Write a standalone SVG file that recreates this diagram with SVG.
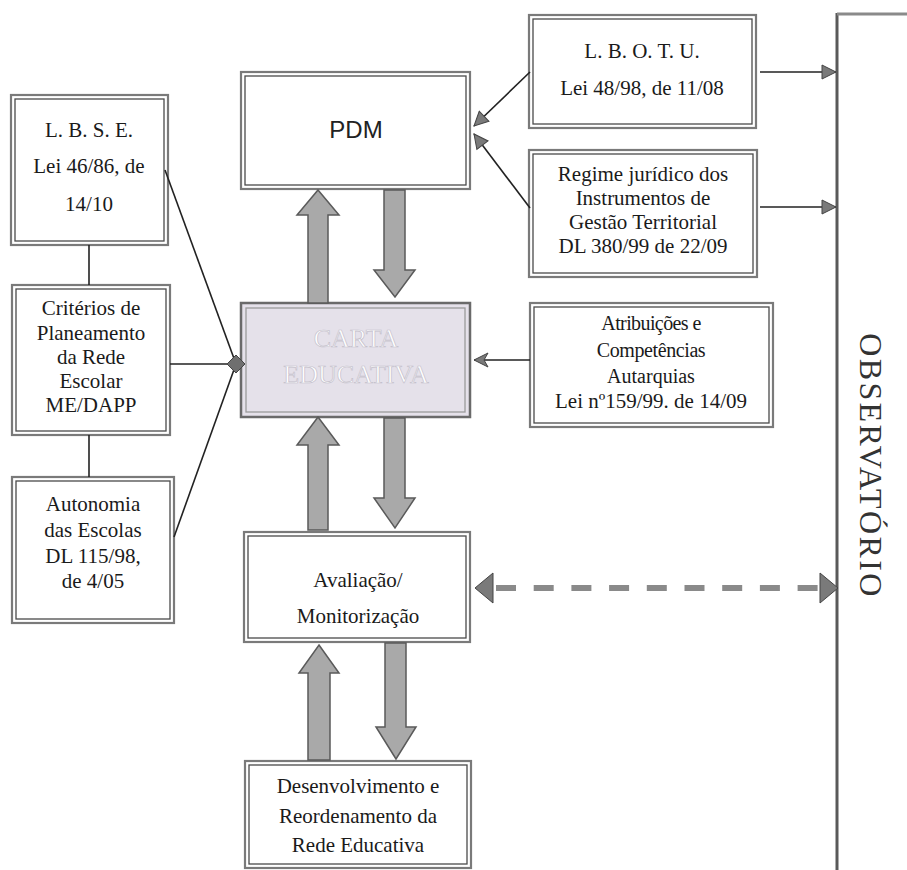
<svg xmlns="http://www.w3.org/2000/svg" width="907" height="870" viewBox="0 0 907 870">
<style>
.ob{fill:#fff;stroke:#7a7a7a;stroke-width:2.2}
.ib{fill:none;stroke:#4a4a4a;stroke-width:1.3}
.t{font-family:"Liberation Serif","Times New Roman",serif;font-size:21px;fill:#1a1a1a;text-anchor:middle}
.a{font-size:20px}
.s{font-family:"Liberation Sans",Arial,sans-serif;font-size:24px;fill:#222;text-anchor:middle}
.ln{stroke:#222;stroke-width:1.6;fill:none}
.blk{fill:#a9a9a9;stroke:#5a5a5a;stroke-width:1.5}
.ah{fill:#7a7a7a;stroke:#444;stroke-width:1}
.ct{font-family:"Liberation Serif","Times New Roman",serif;font-size:26px;text-anchor:middle;fill:#fff;stroke:#c4c0cb;stroke-width:0.7}
</style>
<defs>
<marker id="tri" markerUnits="userSpaceOnUse" markerWidth="16" markerHeight="16" viewBox="0 0 16 16" refX="15" refY="8" orient="auto">
<path d="M1,1 L15,8 L1,15 Z" class="ah"/>
</marker>
<marker id="stl" markerUnits="userSpaceOnUse" markerWidth="16" markerHeight="16" viewBox="0 0 16 16" refX="15" refY="8" orient="auto">
<path d="M1,1 L15,8 L1,15 L5,8 Z" class="ah"/>
</marker>
</defs>
<rect width="907" height="870" fill="#fff"/>

<g id="lbse">
<rect class="ob" x="11" y="95" width="157" height="150"/>
<rect class="ib" x="15" y="99" width="149" height="142"/>
<text class="t" x="89" y="137">L. B. S. E.</text>
<text class="t" x="89" y="173">Lei 46/86, de</text>
<text class="t" x="89" y="211">14/10</text>
</g>

<g id="criterios">
<rect class="ob" x="12" y="285" width="158" height="150"/>
<rect class="ib" x="16" y="289" width="150" height="142"/>
<text class="t" x="91" y="315">Critérios de</text>
<text class="t" x="91" y="340">Planeamento</text>
<text class="t" x="91" y="364">da Rede</text>
<text class="t" x="91" y="388">Escolar</text>
<text class="t" x="91" y="412">ME/DAPP</text>
</g>

<g id="autonomia">
<rect class="ob" x="12" y="477" width="162" height="146"/>
<rect class="ib" x="16" y="481" width="154" height="138"/>
<text class="t" x="93" y="511">Autonomia</text>
<text class="t" x="93" y="537">das Escolas</text>
<text class="t" x="93" y="563">DL 115/98,</text>
<text class="t" x="93" y="588">de 4/05</text>
</g>

<g id="pdm">
<rect class="ob" x="241" y="72" width="229" height="117"/>
<rect class="ib" x="245" y="76" width="221" height="109"/>
<text class="s" x="356" y="138">PDM</text>
</g>

<g id="carta">
<rect x="241" y="303" width="229" height="114" fill="#e5e1ea" stroke="#6a6a6a" stroke-width="2.5"/>
<rect x="246" y="308" width="219" height="104" fill="none" stroke="#9a9a9a" stroke-width="1.3"/>
<text class="ct" x="356" y="347">CARTA</text>
<text class="ct" x="356" y="383">EDUCATIVA</text>
</g>

<g id="avaliacao">
<rect class="ob" x="244" y="532" width="226" height="110"/>
<rect class="ib" x="248" y="536" width="218" height="102"/>
<text class="t" x="358" y="587">Avaliação/</text>
<text class="t" x="358" y="623">Monitorização</text>
</g>

<g id="desenvolvimento">
<rect class="ob" x="245" y="761" width="226" height="107"/>
<rect class="ib" x="249" y="765" width="218" height="99"/>
<text class="t" x="358" y="793">Desenvolvimento e</text>
<text class="t" x="358" y="823">Reordenamento da</text>
<text class="t" x="358" y="852">Rede Educativa</text>
</g>

<g id="lbotu">
<rect class="ob" x="529" y="15" width="227" height="113"/>
<rect class="ib" x="533" y="19" width="219" height="105"/>
<text class="t" x="642" y="58">L. B. O. T. U.</text>
<text class="t" x="642" y="95">Lei 48/98, de 11/08</text>
</g>

<g id="regime">
<rect class="ob" x="529" y="150" width="228" height="127"/>
<rect class="ib" x="533" y="154" width="220" height="119"/>
<text class="t" x="643" y="181">Regime jurídico dos</text>
<text class="t" x="643" y="205">Instrumentos de</text>
<text class="t" x="643" y="229">Gestão Territorial</text>
<text class="t" x="643" y="253">DL 380/99 de 22/09</text>
</g>

<g id="atribuicoes">
<rect class="ob" x="530" y="303" width="243" height="124"/>
<rect class="ib" x="534" y="307" width="235" height="116"/>
<text class="t a" x="651" y="330" letter-spacing="-0.6">Atribuições e</text>
<text class="t a" x="651" y="357" letter-spacing="-0.4">Competências</text>
<text class="t a" x="651" y="383">Autarquias</text>
<text class="t" x="651" y="408">Lei nº159/99. de 14/09</text>
</g>

<g id="observatorio">
<line x1="837" y1="13" x2="837" y2="870" stroke="#5a5a5a" stroke-width="3"/>
<line x1="837" y1="14" x2="907" y2="14" stroke="#8a8a8a" stroke-width="3"/>
<text transform="translate(860,466) rotate(90)" font-family="Liberation Serif,Times New Roman,serif" font-size="32" letter-spacing="2.4" text-anchor="middle" fill="#333">OBSERVATÓRIO</text>
</g>

<g id="connectors">
<line class="ln" x1="89" y1="245" x2="89" y2="285"/>
<line class="ln" x1="89" y1="435" x2="89" y2="477"/>
<line class="ln" x1="165" y1="170" x2="236" y2="364"/>
<line class="ln" x1="170" y1="364" x2="230" y2="364"/>
<line class="ln" x1="174" y1="537" x2="236" y2="364"/>
<path d="M236,355 L245,364 L236,373 L227,364 Z" fill="#6f6f6f" stroke="#444" stroke-width="1"/>

<line class="ln" x1="530" y1="72" x2="474" y2="126" marker-end="url(#tri)"/>
<line class="ln" x1="530" y1="208" x2="474" y2="134" marker-end="url(#tri)"/>
<line class="ln" x1="760" y1="72" x2="836" y2="72" marker-end="url(#tri)"/>
<line class="ln" x1="760" y1="207" x2="836" y2="207" marker-end="url(#tri)"/>
<line class="ln" x1="530" y1="360" x2="474" y2="360" marker-end="url(#stl)"/>

<path class="blk" d="M318,190 L339,215 L328,215 L328,303 L308,303 L308,215 L297,215 Z"/>
<path class="blk" d="M384,190 L405,190 L405,270 L415,270 L395,297 L374,270 L384,270 Z"/>
<path class="blk" d="M318,417 L339,445 L328,445 L328,530 L308,530 L308,445 L297,445 Z"/>
<path class="blk" d="M384,418 L405,418 L405,498 L415,498 L395,528 L374,498 L384,498 Z"/>
<path class="blk" d="M319,645 L339,673 L330,673 L330,760 L308,760 L308,673 L299,673 Z"/>
<path class="blk" d="M385,643 L406,643 L406,727 L416,727 L396,759 L376,727 L385,727 Z"/>

<line x1="496" y1="588" x2="820" y2="588" stroke="#8a8a8a" stroke-width="6" stroke-dasharray="20 17.7"/>
<path class="ah" d="M475,588 L493,573 L493,603 Z"/>
<path class="ah" d="M838,588 L820,573 L820,603 Z"/>
</g>
</svg>
